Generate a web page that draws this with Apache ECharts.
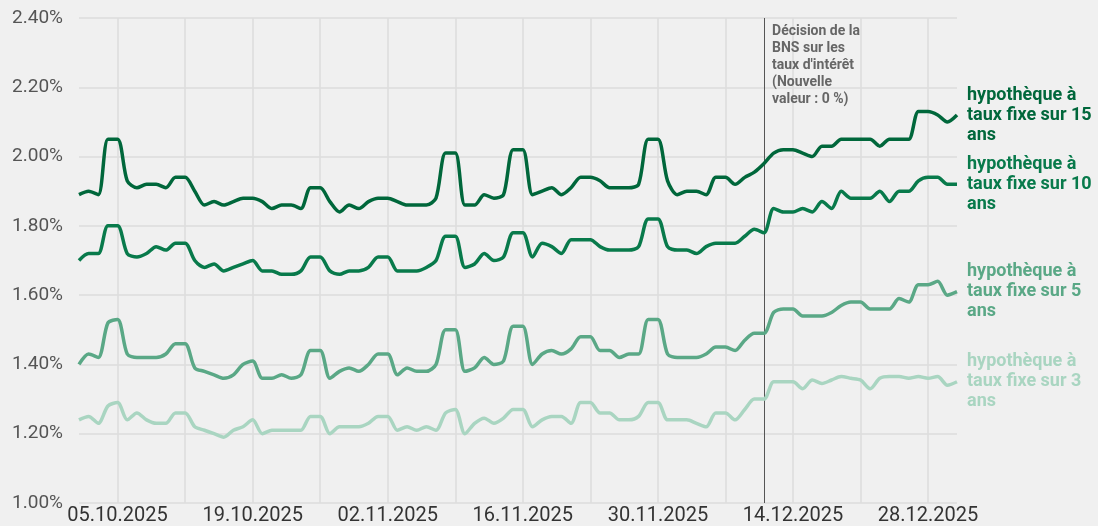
<!DOCTYPE html>
<html>
<head>
<meta charset="utf-8">
<script src="https://cdn.jsdelivr.net/npm/echarts@6/dist/echarts.min.js"></script>
<style>
html,body{margin:0;padding:0;background:#f0f0f0;}
#c{width:1098px;height:526px;}
</style>
</head>
<body>
<div id="c"></div>
<script>
// Dates: daily from 01.10.2025 to 31.12.2025
const startDate = new Date(Date.UTC(2025, 9, 1));
const dayCount = 92;
const dates = [];
for (let i = 0; i < dayCount; i++) {
  const d = new Date(startDate.getTime() + i * 86400000);
  const dd = String(d.getUTCDate()).padStart(2, '0');
  const mm = String(d.getUTCMonth() + 1).padStart(2, '0');
  dates.push(dd + '.' + mm + '.' + d.getUTCFullYear());
}

const seriesNames = [
  'hypothèque à\ntaux fixe sur 15\nans',
  'hypothèque à\ntaux fixe sur 10\nans',
  'hypothèque à\ntaux fixe sur 5\nans',
  'hypothèque à\ntaux fixe sur 3\nans'
];

const fixed15 = [
  1.89, 1.90, 1.89, 2.05, 2.05, 1.93, 1.91, 1.92, 1.92, 1.91,
  1.94, 1.94, 1.90, 1.86, 1.87, 1.86, 1.87, 1.88, 1.88, 1.87,
  1.85, 1.86, 1.86, 1.85, 1.91, 1.91, 1.87, 1.84, 1.86, 1.85,
  1.87, 1.88, 1.88, 1.87, 1.86, 1.86, 1.86, 1.88, 2.01, 2.01,
  1.86, 1.86, 1.89, 1.88, 1.89, 2.02, 2.02, 1.89, 1.90, 1.91,
  1.89, 1.91, 1.94, 1.94, 1.93, 1.91, 1.91, 1.91, 1.92, 2.05,
  2.05, 1.93, 1.89, 1.90, 1.90, 1.89, 1.94, 1.94, 1.92, 1.94,
  1.955, 1.98, 2.01, 2.02, 2.02, 2.01, 2.00, 2.03, 2.03, 2.05,
  2.05, 2.05, 2.05, 2.03, 2.05, 2.05, 2.05, 2.13, 2.13, 2.12,
  2.10, 2.12
];

const fixed10 = [
  1.70, 1.72, 1.72, 1.80, 1.80, 1.72, 1.71, 1.72, 1.74, 1.73,
  1.75, 1.75, 1.70, 1.68, 1.69, 1.67, 1.68, 1.69, 1.70, 1.67,
  1.67, 1.66, 1.66, 1.67, 1.71, 1.71, 1.67, 1.66, 1.67, 1.67,
  1.68, 1.71, 1.71, 1.67, 1.67, 1.67, 1.68, 1.70, 1.77, 1.77,
  1.68, 1.69, 1.72, 1.70, 1.71, 1.78, 1.78, 1.71, 1.75, 1.74,
  1.72, 1.76, 1.76, 1.76, 1.74, 1.73, 1.73, 1.73, 1.74, 1.82,
  1.82, 1.74, 1.73, 1.73, 1.72, 1.74, 1.75, 1.75, 1.75, 1.77,
  1.79, 1.78, 1.85, 1.84, 1.84, 1.85, 1.84, 1.87, 1.85, 1.90,
  1.88, 1.88, 1.88, 1.90, 1.87, 1.90, 1.90, 1.93, 1.94, 1.94,
  1.92, 1.92
];

const fixed5 = [
  1.40, 1.43, 1.42, 1.52, 1.53, 1.43, 1.42, 1.42, 1.42, 1.43,
  1.46, 1.46, 1.39, 1.38, 1.37, 1.36, 1.37, 1.40, 1.41, 1.36,
  1.36, 1.37, 1.36, 1.37, 1.44, 1.44, 1.36, 1.38, 1.39, 1.38,
  1.40, 1.43, 1.43, 1.37, 1.39, 1.38, 1.38, 1.40, 1.50, 1.50,
  1.38, 1.39, 1.42, 1.40, 1.41, 1.51, 1.51, 1.40, 1.43, 1.44,
  1.43, 1.445, 1.48, 1.48, 1.44, 1.44, 1.42, 1.43, 1.43, 1.53,
  1.53, 1.43, 1.42, 1.42, 1.42, 1.43, 1.45, 1.45, 1.44, 1.47,
  1.49, 1.49, 1.55, 1.56, 1.56, 1.54, 1.54, 1.54, 1.55, 1.57,
  1.58, 1.58, 1.56, 1.56, 1.56, 1.59, 1.58, 1.63, 1.63, 1.64,
  1.60, 1.61
];

const fixed3 = [
  1.24, 1.25, 1.23, 1.28, 1.29, 1.24, 1.26, 1.24, 1.23, 1.23,
  1.26, 1.26, 1.22, 1.21, 1.20, 1.19, 1.21, 1.22, 1.24, 1.20,
  1.21, 1.21, 1.21, 1.21, 1.25, 1.25, 1.20, 1.22, 1.22, 1.22,
  1.23, 1.25, 1.25, 1.21, 1.22, 1.21, 1.22, 1.21, 1.26, 1.27,
  1.20, 1.23, 1.245, 1.23, 1.245, 1.27, 1.27, 1.22, 1.24, 1.25,
  1.25, 1.23, 1.29, 1.29, 1.26, 1.26, 1.24, 1.24, 1.25, 1.29,
  1.29, 1.24, 1.24, 1.24, 1.23, 1.22, 1.26, 1.26, 1.24, 1.27,
  1.30, 1.30, 1.35, 1.35, 1.35, 1.33, 1.355, 1.345, 1.355, 1.365,
  1.36, 1.355, 1.33, 1.36, 1.365, 1.365, 1.36, 1.365, 1.36, 1.365,
  1.34, 1.35
];

const yTicks = { min: 1.0, max: 2.4, interval: 0.2 };
const decisionDate = '11.12.2025';
const decisionText = 'Décision de la\nBNS sur les\ntaux d\'intérêt\n(Nouvelle\nvaleur : 0 %)';

const colors = ['#00673b', '#087a4b', '#5aa886', '#a9d5c1'];
const allData = [fixed15, fixed10, fixed5, fixed3];

const chart = echarts.init(document.getElementById('c'), null, { renderer: 'canvas' });

const series = allData.map((d, i) => {
  const s = {
    name: seriesNames[i],
    type: 'line',
    data: d,
    smooth: 0.28,
    symbol: 'none',
    z: 10 - i,
    lineStyle: { color: colors[i], width: 3.5 },
    itemStyle: { color: colors[i] },
    endLabel: {
      show: true,
      formatter: p => p.seriesName,
      color: colors[i],
      fontFamily: 'Roboto',
      fontWeight: 'bold',
      fontSize: 18,
      lineHeight: 20,
      distance: 10,
      align: 'left',
      verticalAlign: 'middle'
    }
  };
  if (i === 0) {
    s.markLine = {
      silent: true,
      symbol: 'none',
      animation: false,
      label: { show: false },
      lineStyle: { color: '#555', width: 1, type: 'solid' },
      data: [{ xAxis: decisionDate }]
    };
  }
  return s;
});

chart.setOption({
  backgroundColor: '#f0f0f0',
  animation: false,
  textStyle: { fontFamily: 'Roboto' },
  grid: { left: 79, right: 141, top: 18, bottom: 23 },
  xAxis: {
    type: 'category',
    data: dates,
    boundaryGap: false,
    axisLine: { show: false },
    axisTick: { show: false },
    axisLabel: {
      interval: (i) => i >= 4 && (i - 4) % 14 === 0,
      color: '#333',
      fontSize: 20,
      fontFamily: 'Roboto',
      margin: 3
    },
    splitLine: {
      show: true,
      interval: (i) => i >= 4 && i < dayCount - 1 && (i - 4) % 7 === 0,
      lineStyle: { color: '#dcdcdc', width: 1.5 }
    }
  },
  yAxis: {
    type: 'value',
    min: yTicks.min,
    max: yTicks.max,
    interval: yTicks.interval,
    axisLine: { show: false },
    axisTick: { show: false },
    axisLabel: {
      formatter: v => v.toFixed(2) + '%',
      color: '#555',
      fontSize: 19,
      fontFamily: 'Roboto',
      margin: 16
    },
    splitLine: { lineStyle: { color: '#dcdcdc', width: 1.5 } }
  },
  series: series
});

const px = chart.convertToPixel({ xAxisIndex: 0 }, decisionDate);
chart.setOption({
  graphic: [{
    type: 'text',
    left: px + 8,
    top: 23,
    z: 100,
    style: {
      text: decisionText,
      fill: '#666',
      font: 'bold 14px Roboto',
      lineHeight: 17
    }
  }]
});
</script>
</body>
</html>
